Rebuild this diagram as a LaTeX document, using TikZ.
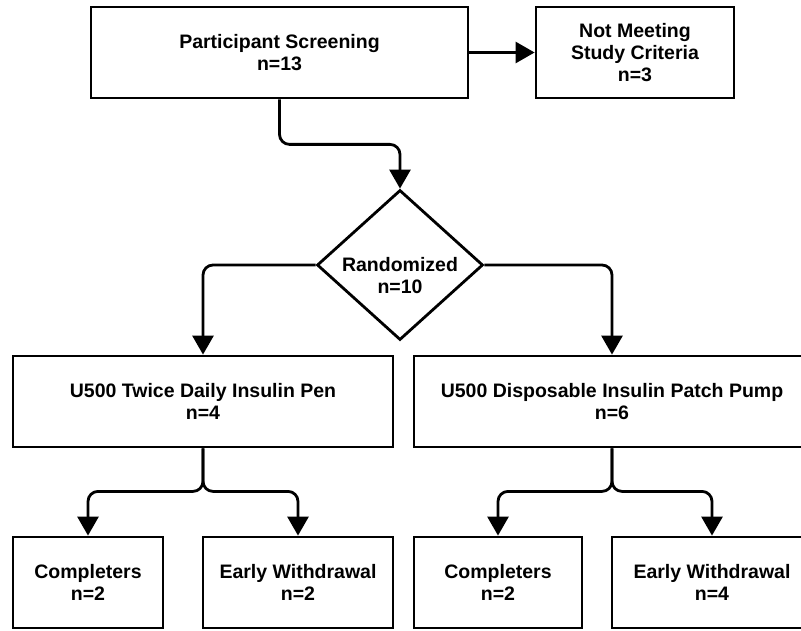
\documentclass[tikz,border=0pt]{standalone}
\usepackage{fontspec}
\setmainfont{Liberation Sans}
\usetikzlibrary{calc}
\usetikzlibrary{arrows.meta}
\usetikzlibrary{shapes.geometric}

\begin{document}
\begin{tikzpicture}[x=1pt,y=-1pt,
    stage/.style={draw,line width=2.8pt,rectangle,inner sep=0pt,align=center,
        font=\bfseries\fontsize{19.5}{22}\selectfont},
    flow/.style={line width=2.8pt,rounded corners=10pt,-{Triangle[width=21pt,length=19pt]}}]

\useasboundingbox (0,0) rectangle (801,631);

% centres, measured on the pixel grid
\coordinate (s) at (279.5, 52.5);
\coordinate (x) at (635, 52.5);
\coordinate (r) at (400, 265);
\coordinate (p) at (203, 401.5);
\coordinate (q) at (612, 401.5);
\coordinate (c1) at (88, 582.5);
\coordinate (w1) at (298, 582.5);
\coordinate (c2) at (498, 582.5);
\coordinate (w2) at (712, 582.5);

\newcommand{\stagenode}[4]{
    \node[stage,minimum width=#3pt,minimum height=91pt] (#1) at (#2) {#4};
}

\newcommand{\flowedge}[2]{
    \draw[flow] (#1) -- (#2);
}

\newcommand{\splitedge}[3]{
    \draw[flow] (#1.south) -- ++(0,43) -| (#2.north);
    \draw[flow] (#1.south) -- ++(0,43) -| (#3.north);
}

\stagenode{screen}{s}{377}{Participant Screening\\n=13}
\stagenode{notmeet}{x}{198}{Not Meeting\\Study Criteria\\n=3}
\stagenode{pen}{p}{380}{U500 Twice Daily Insulin Pen\\n=4}
\stagenode{pump}{q}{396}{U500 Disposable Insulin Patch Pump\\n=6}
\stagenode{penc}{c1}{150}{Completers\\n=2}
\stagenode{penw}{w1}{190}{Early Withdrawal\\n=2}
\stagenode{pumpc}{c2}{168}{Completers\\n=2}
\stagenode{pumpw}{w2}{200}{Early Withdrawal\\n=4}

\node[draw,diamond,line width=2.8pt,minimum width=166pt,minimum height=150pt,inner sep=0pt,
    label={[name=randtxt,align=center,yshift=-11pt,font=\bfseries\fontsize{19.5}{22}\selectfont]center:{Randomized\\n=10}}]
    (rand) at (r) {};

\flowedge{screen.east}{notmeet.west}
\draw[flow] (screen.south) -- ++(0,45) -| (rand.north);
\draw[flow] (rand.west) -| (pen.north);
\draw[flow] (rand.east) -| (pump.north);

\splitedge{pen}{penc}{penw}
\splitedge{pump}{pumpc}{pumpw}

\end{tikzpicture}
\end{document}
